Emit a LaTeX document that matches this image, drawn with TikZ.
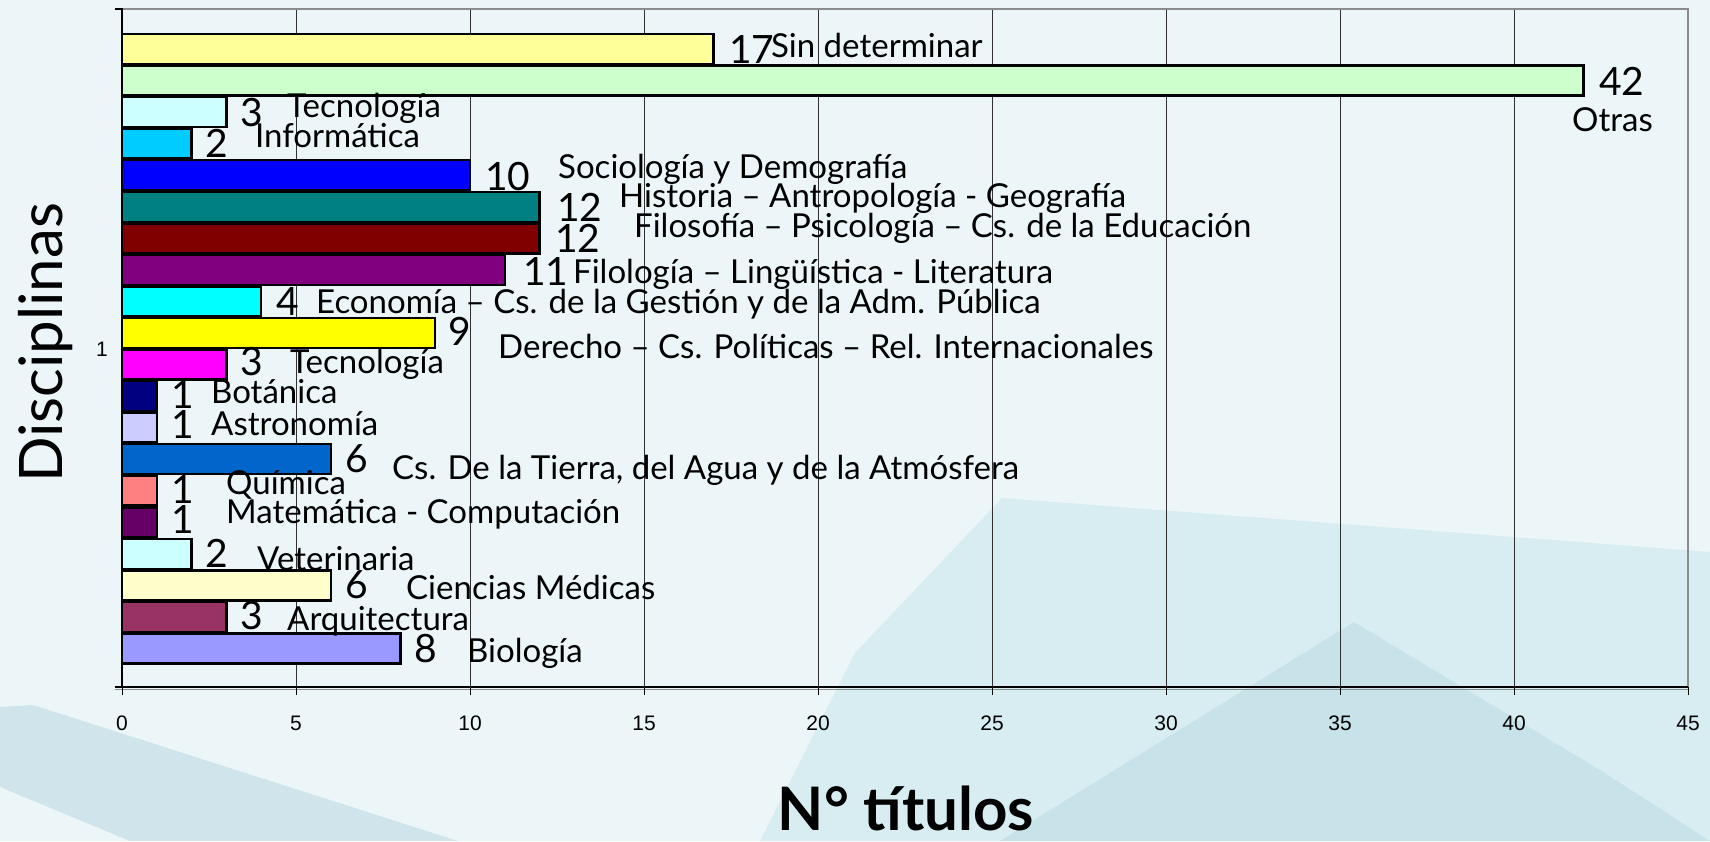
\documentclass[tikz,border=0pt]{standalone}
\usepackage{fontspec}
\setmainfont{Lato}
\newfontfamily\arialf{Liberation Sans}
\definecolor{bgc}{HTML}{ECF6F8}
\definecolor{bgA}{HTML}{D7EDF2}
\definecolor{bgB}{HTML}{C8E2E9}
\definecolor{bgC}{HTML}{CFE5EB}
\definecolor{gridc}{HTML}{303030}
\definecolor{framec}{HTML}{8C8C8C}
\definecolor{c01}{HTML}{FFFF99}
\definecolor{c02}{HTML}{CCFFCC}
\definecolor{c03}{HTML}{CCFFFF}
\definecolor{c04}{HTML}{00CCFF}
\definecolor{c05}{HTML}{0000FF}
\definecolor{c06}{HTML}{008080}
\definecolor{c07}{HTML}{800000}
\definecolor{c08}{HTML}{800080}
\definecolor{c09}{HTML}{00FFFF}
\definecolor{c10}{HTML}{FFFF00}
\definecolor{c11}{HTML}{FF00FF}
\definecolor{c12}{HTML}{000080}
\definecolor{c13}{HTML}{CCCCFF}
\definecolor{c14}{HTML}{0066CC}
\definecolor{c15}{HTML}{FF8080}
\definecolor{c16}{HTML}{660066}
\definecolor{c17}{HTML}{CCFFFF}
\definecolor{c18}{HTML}{FFFFCC}
\definecolor{c19}{HTML}{993366}
\definecolor{c20}{HTML}{9999FF}
\begin{document}
\begin{tikzpicture}[x=1pt,y=-1pt,
  lab/.style={font=\fontsize{33}{33}\selectfont, inner sep=0pt, anchor=base west},
  num/.style={font=\fontsize{39}{39}\selectfont, inner sep=0pt, anchor=base west},
  ticklab/.style={font=\arialf\fontsize{21}{21}\selectfont, inner sep=0pt, anchor=base},
  gridline/.style={gridc, line width=0.8pt},
  barbox/.style={draw=black, line width=2.5pt}]
\useasboundingbox (0,0) rectangle (1710,841);
% background
\fill[bgc] (0,0) rectangle (1710,841);
\fill[bgA] (1002,498) -- (1710,552) -- (1710,841) -- (760,841) -- (855,653) -- cycle;
\fill[bgB] (1354,622) -- (1600,770) -- (1710,841) -- (1000,841) -- cycle;
\fill[bgC] (0,707) -- (33,705) -- (458,841) -- (130,841) -- (0,787) -- cycle;
% gridlines
\foreach \k in {5,10,...,40} {
  \draw[gridline] ({122+34.8*\k},9) -- ({122+34.8*\k},687);
}
% frame
\draw[framec, line width=2pt] (122,9) -- (1688,9) -- (1688,687);
% bars
\foreach \v/\c [count=\i from 0] in {17/c01,42/c02,3/c03,2/c04,10/c05,12/c06,12/c07,11/c08,4/c09,9/c10,3/c11,1/c12,1/c13,6/c14,1/c15,1/c16,2/c17,6/c18,3/c19,8/c20} {
  \draw[barbox, fill=\c] (122,{34+31.55*\i}) rectangle ({122+34.8*\v},{64+31.55*\i});
}
% axes
\draw[black, line width=1.5pt] (115,9) -- (122,9) -- (122,687);
\draw[framec, line width=1.5pt] (115,689.5) -- (1688,689.5);
\draw[black, line width=2pt] (115,687) -- (1688,687);
\foreach \k in {0,5,...,45} {
  \draw[black, line width=1pt] ({122+34.8*\k},687) -- ({122+34.8*\k},695);
  \node[ticklab] (t\k) at ({122+34.8*\k},730) {\k};
}
\node[ticklab] (cat1) at (102,356) {1};
% axis titles
\node[font=\fontsize{60}{60}\selectfont, inner sep=0pt, rotate=90, anchor=base west] (ytitle) at (62,483) {Disciplinas};
\node[font=\bfseries\fontsize{60}{60}\selectfont, inner sep=0pt, anchor=base] (xtitle) at (906,830) {N° títulos};
% data labels
\node[num] (n01) at (729,63) {17};
\node[lab] (l01) at (771,57) {Sin determinar};
\node[num] (n02) at (1599,95) {42};
\node[lab] (l02) at (1572,131) {Otras};
\node[num] (n03) at (240,126) {3};
\node[lab] (l03) at (287,117) {Tecnología};
\node[num] (n04) at (205,157) {2};
\node[lab] (l04) at (255,147) {Informática};
\node[num] (n05) at (485,190) {10};
\node[lab] (l05) at (558,178) {Sociología y Demografía};
\node[num] (n06) at (557,221) {12};
\node[lab] (l06) at (619,207) {Historia – Antropología - Geografía};
\node[num] (n07) at (555,252) {12};
\node[lab] (l07) at (634,237) {Filosofía – Psicología – Cs. de la Educación};
\node[num] (n08) at (523,285) {11};
\node[lab] (l08) at (573,283) {Filología – Lingüística - Literatura};
\node[num] (n09) at (276,315) {4};
\node[lab] (l09) at (316,313) {Economía – Cs. de la Gestión y de la Adm. Pública};
\node[num] (n10) at (448,345) {9};
\node[lab] (l10) at (498,358) {Derecho – Cs. Políticas – Rel. Internacionales};
\node[num] (n11) at (240,375) {3};
\node[lab] (l11) at (290,373) {Tecnología};
\node[num] (n12) at (171,408) {1};
\node[lab] (l12) at (211,403) {Botánica};
\node[num] (n13) at (171,438) {1};
\node[lab] (l13) at (211,435) {Astronomía};
\node[num] (n14) at (345,472) {6};
\node[lab] (l14) at (392,479) {Cs. De la Tierra, del Agua y de la Atmósfera};
\node[num] (n15) at (171,503) {1};
\node[lab] (l15) at (226,494) {Química};
\node[num] (n16) at (171,533) {1};
\node[lab] (l16) at (226,523) {Matemática - Computación};
\node[num] (n17) at (205,567) {2};
\node[lab] (l17) at (257,570) {Veterinaria};
\node[num] (n18) at (345,598) {6};
\node[lab] (l18) at (406,599) {Ciencias Médicas};
\node[num] (n19) at (240,629) {3};
\node[lab] (l19) at (287,630) {Arquitectura};
\node[num] (n20) at (414,662) {8};
\node[lab] (l20) at (467,662) {Biología};
\end{tikzpicture}
\end{document}
